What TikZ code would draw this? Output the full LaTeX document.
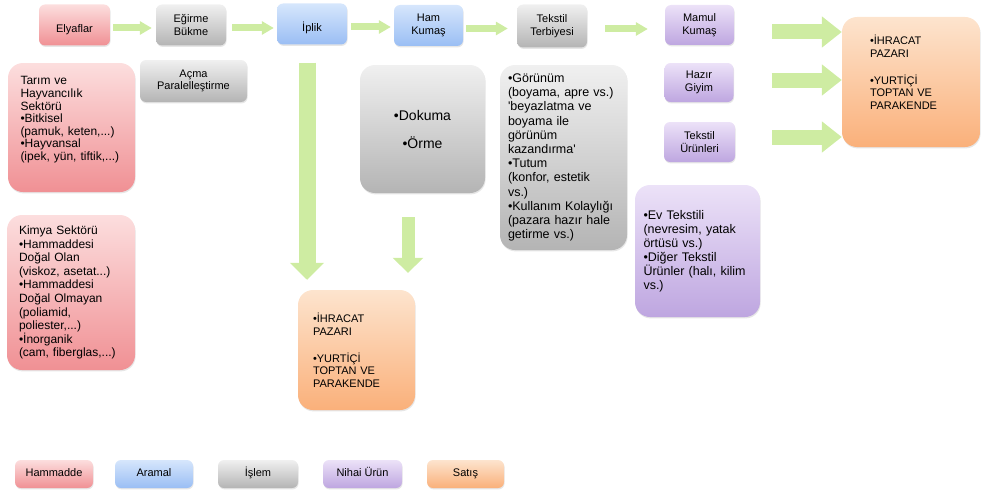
\documentclass[tikz,border=0pt]{standalone}
\usepackage{fontspec}
\setmainfont{Liberation Sans}
\usetikzlibrary{arrows.meta, shadows}

\definecolor{rawtop}{RGB}{252,222,222}
\definecolor{rawbot}{RGB}{240,144,148}
\definecolor{midtop}{RGB}{214,230,252}
\definecolor{midbot}{RGB}{154,190,244}
\definecolor{proctop}{RGB}{240,240,240}
\definecolor{procbot}{RGB}{180,180,180}
\definecolor{endtop}{RGB}{236,226,248}
\definecolor{endbot}{RGB}{190,166,224}
\definecolor{saletop}{RGB}{253,228,206}
\definecolor{salebot}{RGB}{250,176,122}
\definecolor{flowgreen}{RGB}{206,236,162}

\begin{document}
\begin{tikzpicture}[
		x=1pt, y=-1pt,
		font=\fontsize{11}{12.5}\selectfont,
		% box styles
		smallbox/.style={
			rounded corners=6pt,
			minimum width=70pt, minimum height=41pt,
			inner sep=2pt,
			drop shadow={shadow xshift=0.6pt, shadow yshift=-1.4pt, opacity=0.2}
		},
		oneline/.style={smallbox, text height=26pt, text depth=11pt},
		twoline/.style={smallbox, align=center},
		bigbox/.style={
			smallbox, rounded corners=15pt,
			align=left, inner xsep=15pt
		},
		raw/.style={top color=rawtop, bottom color=rawbot},
		mid/.style={top color=midtop, bottom color=midbot},
		proc/.style={top color=proctop, bottom color=procbot},
		final/.style={top color=endtop, bottom color=endbot},
		sale/.style={top color=saletop, bottom color=salebot},
		legend/.style={smallbox, minimum width=78pt, minimum height=28pt,
			text height=14.6pt, text depth=9.4pt},
		% arrow styles
		flow/.style={
			draw=flowgreen, line width=7pt,
			-{Triangle[width=13pt, length=12pt]},
			shorten <=4pt, shorten >=4pt
		},
		bigflow/.style={
			draw=flowgreen, line width=15pt,
			-{Triangle[width=30pt, length=20pt]}
		}
	]

	\useasboundingbox (0,0) rectangle (981,495);

	% Top row
	\node[oneline, raw, minimum width=71pt] (elyaf) at (74.5,25) {Elyaflar};
	\node[twoline, proc] (egirme) at (191,25) {Eğirme\\Bükme};
	\node[oneline, mid] (iplik) at (312,24) {İplik};
	\node[twoline, mid, minimum width=69pt] (ham) at (428.5,25.5) {Ham\\Kumaş};
	\node[twoline, proc, minimum height=43pt] (terbiye) at (552,26) {Tekstil\\Terbiyesi};
	\node[twoline, final, minimum width=69pt, minimum height=40pt] (mamul) at (699.5,25) {Mamul\\Kumaş};
	\node[twoline, final, minimum width=69pt, minimum height=39pt] (hazir) at (699,82.5) {Hazır\\Giyim};
	\node[twoline, final, minimum width=71pt, minimum height=40pt] (urunler) at (699.5,142) {Tekstil\\Ürünleri};

	% Detail boxes
	\node[twoline, proc, minimum width=107pt, minimum height=42pt] (acma) at (193.5,81) {Açma\\Paralelleştirme};
	\node[bigbox, raw, inner xsep=12.5pt, text width=102pt, minimum height=129pt,
		font=\fontsize{12}{12.6}\selectfont] (tarim) at (71.5,127.5)
		{Tarım ve\\Hayvancılık\\Sektörü\\•Bitkisel\\(pamuk, keten,...)\\•Hayvansal\\(ipek, yün, tiftik,...)\rule[-18pt]{0pt}{18pt}};
	\node[bigbox, raw, inner xsep=12pt, text width=104pt, minimum height=155pt,
		font=\fontsize{12}{13.6}\selectfont] (kimya) at (71,292.5)
		{Kimya Sektörü\\•Hammaddesi\\Doğal Olan\\(viskoz, asetat...)\\•Hammaddesi\\Doğal Olmayan\\(poliamid,\\poliester,...)\\•İnorganik\\(cam, fiberglas,...)};
	\node[bigbox, proc, align=center, text width=95pt, minimum height=128pt,
		font=\fontsize{14}{16}\selectfont] (dokuma) at (422.5,129)
		{•Dokuma\\[12pt]•Örme};
	\node[bigbox, proc, inner xsep=8pt, text width=111pt, minimum height=185pt,
		font=\fontsize{12.5}{14.2}\selectfont] (gorunum) at (563.5,157.5)
		{•Görünüm\\(boyama, apre vs.)\\\textquotesingle beyazlatma ve\\boyama ile\\görünüm\\kazandırma\textquotesingle\\•Tutum\\(konfor, estetik\\vs.)\\•Kullanım Kolaylığı\\(pazara hazır hale\\getirme vs.)};
	\node[bigbox, final, inner xsep=8.5pt, text width=108pt, minimum height=132pt,
		font=\fontsize{12.5}{14}\selectfont] (evtekstil) at (697.5,251)
		{•Ev Tekstili\\(nevresim, yatak\\örtüsü vs.)\\•Diğer Tekstil\\Ürünler (halı, kilim\\vs.)};

	% Sales boxes
	\node[bigbox, sale, inner xsep=28pt, text width=82pt, minimum height=130pt] (satisr) at (911,82)
		{•İHRACAT\\PAZARI\\[14.5pt]•YURTİÇİ\\TOPTAN VE\\PARAKENDE\rule[-20pt]{0pt}{20pt}};
	\node[bigbox, sale, text width=87pt, minimum height=120pt] (satisb) at (356.5,350)
		{•İHRACAT\\PAZARI\\[14.5pt]•YURTİÇİ\\TOPTAN VE\\PARAKENDE};

	% Legend
	\node[legend, raw] (hamL) at (54,474) {Hammadde};
	\node[legend, mid] (aramalL) at (154,474) {Aramal};
	\node[legend, proc, minimum width=80pt] (islemL) at (258,474) {İşlem};
	\node[legend, final, minimum width=79pt] (nihaiL) at (362.5,474) {Nihai Ürün};
	\node[legend, sale, minimum width=77pt] (satisL) at (465.5,474) {Satış};

	% Arrows along the top row
	\draw[flow, shorten <=3pt] ([yshift=-3pt]elyaf.east) -- ([yshift=-3pt]elyaf.east -| egirme.west);
	\draw[flow, shorten <=6pt, shorten >=3pt] ([yshift=-3pt]egirme.east) -- ([yshift=-3pt]egirme.east -| iplik.west);
	\draw[flow, shorten >=3pt] ([yshift=-3pt]iplik.east) -- ([yshift=-3pt]iplik.east -| ham.west);
	\draw[flow, shorten <=3pt, shorten >=9pt] ([yshift=-3pt]ham.east) -- ([yshift=-3pt]ham.east -| terbiye.west);
	\draw[flow, shorten <=18pt, shorten >=17pt] ([yshift=-3pt]terbiye.east) -- ([yshift=-3pt]terbiye.east -| mamul.west);

	% Arrows into sales
	\draw[bigflow, shorten <=38pt] ([yshift=-7pt]mamul.east) -- ([yshift=-7pt]mamul.east -| satisr.west);
	\draw[bigflow, shorten <=38pt] ([yshift=2.5pt]hazir.east) -- ([yshift=2.5pt]hazir.east -| satisr.west);
	\draw[bigflow, shorten <=37pt] ([yshift=5pt]urunler.east) -- ([yshift=5pt]urunler.east -| satisr.west);
	\draw[bigflow, line width=17pt, -{Triangle[width=33pt, length=17pt]},
		shorten <=18pt, shorten >=10pt]
		([xshift=-5pt]iplik.south) -- ([xshift=-5pt]iplik.south |- satisb.north);
	\draw[bigflow, line width=13pt, -{Triangle[width=30pt, length=15pt]},
		shorten <=24pt, shorten >=17pt]
		([xshift=-14.5pt]dokuma.south) -- ([xshift=-14.5pt]dokuma.south |- satisb.north);

\end{tikzpicture}
\end{document}
